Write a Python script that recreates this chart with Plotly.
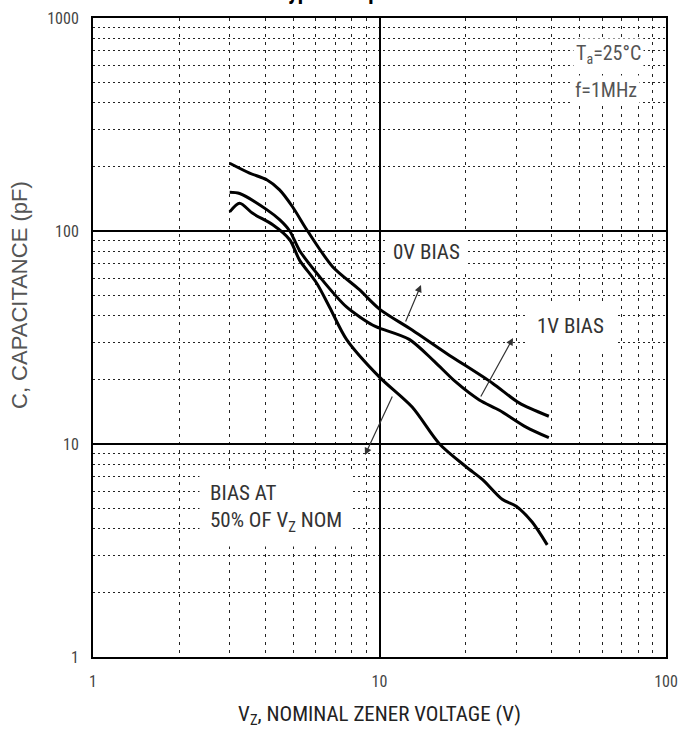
import plotly.graph_objects as go
import math

# ---- data ----
bias0_v = [3.0, 3.52, 4.04, 4.48, 4.97, 5.61, 6.86, 8.51, 10.0, 13.0, 17.1, 24.8, 30.7, 39.0]
bias0_c = [208, 187, 174, 156, 130, 100, 68, 53, 43, 34.3, 26.7, 19.3, 15.6, 13.5]

bias1_v = [3.0, 3.25, 4.04, 4.48, 4.86, 5.26, 6.18, 7.67, 9.45, 10.0, 12.7, 15.5, 18.5, 22.3, 26.2, 32.5, 39.0]
bias1_c = [152, 150, 126, 113, 100, 81, 61, 44, 36.2, 35, 31.0, 24.5, 19.5, 16.1, 14.4, 12.0, 10.7]

half_v = [3.0, 3.25, 3.61, 4.24, 4.86, 5.26, 6.03, 6.69, 7.67, 10.0, 13.0, 16.2, 20.1, 22.9, 26.8, 30.0, 34.1, 38.5]
half_c = [123, 135, 121, 107, 91, 73, 57, 44, 31, 20.6, 14.9, 10.0, 7.8, 6.8, 5.5, 5.1, 4.3, 3.36]

x_ticks = [1, 10, 100]
x_ticklabels = ["1", "10", "100"]
y_ticks = [1, 10, 100, 1000]
y_ticklabels = ["1", "10", "100", "1000"]
x_minor = [2, 3, 4, 5, 6, 7, 8, 9, 20, 30, 40, 50, 60, 70, 80, 90]
y_minor = [2, 3, 4, 5, 6, 7, 8, 9, 20, 30, 40, 50, 60, 70, 80, 90,
           200, 300, 400, 500, 600, 700, 800, 900]

NARROW = "Liberation Sans Narrow, Arial Narrow, Roboto Condensed, sans-serif"
REG = "Liberation Sans, Arial, sans-serif"

# plot-area pixel geometry
PL, PR, PT, PB = 93, 666, 18, 657
XD = (PR - PL) / 2.0   # px per decade (x)
YD = (PB - PT) / 3.0   # px per decade (y)


def xl(px):
    return (px - PL) / XD


def yl(py):
    return (PB - py) / YD


fig = go.Figure()
for xs, ys, name in [(bias0_v, bias0_c, "0V BIAS"), (bias1_v, bias1_c, "1V BIAS"),
                     (half_v, half_c, "BIAS AT 50% OF VZ NOM")]:
    fig.add_trace(go.Scatter(x=xs, y=ys, mode="lines", name=name,
                             line=dict(color="black", width=3, shape="spline", smoothing=0.8),
                             showlegend=False))

annots = [
    # title (cut off at the top of the picture, as in the reference)
    dict(text="<b>Typical Capacitance</b>", xref="paper", yref="paper", x=(365 - PL) / (PR - PL),
         y=(PB - 6) / (PB - PT), xanchor="center", yanchor="bottom", showarrow=False,
         font=dict(family=NARROW, size=22, color="black")),
    # y-axis title
    dict(text="C, CAPACITANCE (pF)", xref="paper", yref="paper", x=(19 - PL) / (PR - PL),
         y=(PB - 295) / (PB - PT), xanchor="center", yanchor="middle", textangle=-90,
         showarrow=False, font=dict(family=REG, size=22, color="#555")),
    dict(text="0V BIAS", x=xl(426), y=yl(252), xref="x", yref="y", showarrow=False,
         font=dict(family=NARROW, size=21, color="#333"), bgcolor="white", borderpad=7),
    dict(text="1V BIAS", x=xl(570), y=yl(326), xref="x", yref="y", showarrow=False,
         font=dict(family=NARROW, size=21, color="#333"), bgcolor="white", borderpad=11),
    dict(text="BIAS AT<br>50% OF V<sub>Z</sub> NOM", x=xl(199), y=yl(508),
         xref="x", yref="y", xanchor="left", align="left", showarrow=False,
         font=dict(family=NARROW, size=21, color="#333"), bgcolor="white", borderpad=10),
    dict(text="T<sub>a</sub>=25°C", x=xl(608), y=yl(54), xref="x", yref="y",
         showarrow=False, font=dict(family=NARROW, size=20, color="#555"), bgcolor="white", borderpad=2),
    dict(text="f=1MHz", x=xl(606), y=yl(90), xref="x", yref="y",
         showarrow=False, font=dict(family=NARROW, size=20, color="#555"), bgcolor="white", borderpad=2),
    # arrows
    dict(text="", x=xl(421), y=yl(285), ax=xl(405), ay=yl(323), xref="x", yref="y", axref="x", ayref="y",
         showarrow=True, arrowhead=2, arrowsize=1.2, arrowwidth=1.2, arrowcolor="#333"),
    dict(text="", x=xl(513), y=yl(338), ax=xl(480), ay=yl(398), xref="x", yref="y", axref="x", ayref="y",
         showarrow=True, arrowhead=2, arrowsize=1.2, arrowwidth=1.2, arrowcolor="#333"),
    dict(text="", x=xl(365), y=yl(455), ax=xl(393), ay=yl(395), xref="x", yref="y", axref="x", ayref="y",
         showarrow=True, arrowhead=2, arrowsize=1.2, arrowwidth=1.2, arrowcolor="#333"),
]

fig.update_layout(
    width=681, height=737,
    margin=dict(l=PL, r=681 - PR, t=PT, b=737 - PB),
    paper_bgcolor="white", plot_bgcolor="white",
    annotations=annots,
)
fig.update_xaxes(
    type="log", range=[0, 2], automargin=False,
    tickvals=x_ticks, ticktext=x_ticklabels, ticks="", ticklabelstandoff=9,
    tickfont=dict(family=NARROW, size=16, color="#444"),
    showline=True, linecolor="black", linewidth=2, mirror=True,
    showgrid=True, gridcolor="black", gridwidth=1.5, zeroline=False,
    minor=dict(tickvals=x_minor, showgrid=True, gridcolor="#222", gridwidth=1.2, griddash="3px,5px", ticks=""),
    title=dict(text="V<sub>Z</sub>, NOMINAL ZENER VOLTAGE (V)", standoff=16,
               font=dict(family=NARROW, size=21, color="#222")),
)
fig.update_yaxes(
    type="log", range=[0, 3], automargin=False,
    tickvals=y_ticks, ticktext=y_ticklabels, ticks="", ticklabelstandoff=9,
    tickfont=dict(family=NARROW, size=16, color="#444"),
    showline=True, linecolor="black", linewidth=2, mirror=True,
    showgrid=True, gridcolor="black", gridwidth=1.5, zeroline=False,
    minor=dict(tickvals=y_minor, showgrid=True, gridcolor="#222", gridwidth=1.2, griddash="2px,3px", ticks=""),
)

fig.write_html("out.html")
